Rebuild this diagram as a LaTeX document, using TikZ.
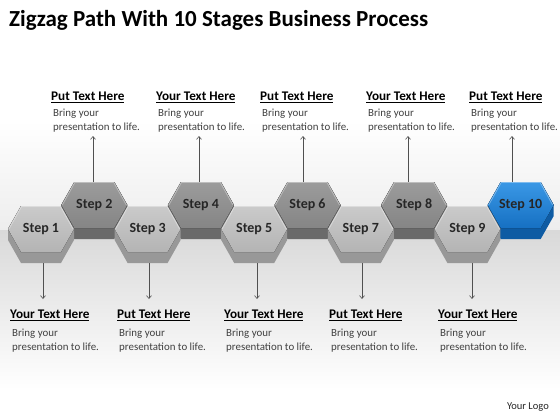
\documentclass[tikz,border=0pt]{standalone}
\usepackage{fontspec}
\setmainfont{Carlito}
\usetikzlibrary{arrows.meta,calc}
\definecolor{upTop}{HTML}{9C9C9C}
\definecolor{upBot}{HTML}{858585}
\definecolor{upSide}{HTML}{6A6A6A}
\definecolor{loTop}{HTML}{CACACA}
\definecolor{loBot}{HTML}{B4B4B4}
\definecolor{loSide}{HTML}{989898}
\definecolor{blTop}{HTML}{3A98E6}
\definecolor{blBot}{HTML}{1670C2}
\definecolor{blSide}{HTML}{0E5BA3}
\definecolor{bodyGray}{HTML}{404040}
\definecolor{lineGray}{HTML}{505050}
\newcommand\hexstep[7]{%
  \fill[#6] (#2-33,#3) -- (#2-20,#3-23) -- (#2+20,#3-23) -- (#2+33,#3) -- (#2+33,#3+11) -- (#2+20,#3+34) -- (#2-20,#3+34) -- (#2-33,#3+11) -- cycle;
  \fill[top color=#4,bottom color=#5] (#2-33,#3) -- (#2-20,#3-23) -- (#2+20,#3-23) -- (#2+33,#3) -- (#2+20,#3+23) -- (#2-20,#3+23) -- cycle;
  \draw[white,opacity=0.35,line width=0.8pt] (#2-32,#3) -- (#2-19.5,#3-22.5) -- (#2+19.5,#3-22.5) -- (#2+32,#3);
  \node[steplabel] (#1) at (#2,#3) {#7};
}
\tikzset{
  steplabel/.style={minimum width=66pt,minimum height=46pt,inner sep=0pt,font=\fontsize{14}{16}\selectfont\bfseries,text=black!85},
  hdr/.style={anchor=west,inner sep=0pt,font=\fontsize{13.2}{15}\selectfont\bfseries,text=black},
  bodytxt/.style={anchor=north west,inner sep=0pt,align=left,font=\fontsize{10.9}{14}\selectfont,text=bodyGray},
  conn/.style={draw=lineGray,line width=0.6pt,-{Straight Barb[length=3pt,width=5pt]}}
}
\begin{document}
\begin{tikzpicture}[x=1pt,y=-1pt]
\useasboundingbox (0,0) rectangle (560,420);
\fill[white] (0,0) rectangle (560,420);
\fill[top color=white,bottom color=black!7] (0,120) rectangle (560,230);
\fill[top color=black!15,bottom color=white] (0,230) rectangle (560,390);
% title
\node[anchor=west,inner sep=0pt,font=\fontsize{23}{26}\selectfont\bfseries] (title) at (9,20) {Zigzag Path With 10 Stages Business Process};
% upper row
\hexstep{s2}{94.3}{205}{upTop}{upBot}{upSide}{Step 2}
\hexstep{s4}{200.9}{205}{upTop}{upBot}{upSide}{Step 4}
\hexstep{s6}{307.5}{205}{upTop}{upBot}{upSide}{Step 6}
\hexstep{s8}{414.1}{205}{upTop}{upBot}{upSide}{Step 8}
\hexstep{s10}{520.7}{205}{blTop}{blBot}{blSide}{Step 10}
% lower row
\hexstep{s1}{41}{229}{loTop}{loBot}{loSide}{Step 1}
\hexstep{s3}{147.6}{229}{loTop}{loBot}{loSide}{Step 3}
\hexstep{s5}{254.2}{229}{loTop}{loBot}{loSide}{Step 5}
\hexstep{s7}{360.8}{229}{loTop}{loBot}{loSide}{Step 7}
\hexstep{s9}{467.4}{229}{loTop}{loBot}{loSide}{Step 9}
% upper texts
\foreach \n/\x/\t/\ax in {2/51/Put/93, 4/156/Your/199, 6/260/Put/303, 8/366/Your/408, 10/469/Put/512}{
  \node[hdr] (h\n) at (\x,97) {\underline{\t\ Text Here}};
  \node[bodytxt] (b\n) at (\x+2,109) {Bring your\\presentation to life.};
  \coordinate (a\n) at (\ax,136);
  \draw[conn] (s\n.north -| a\n) -- (a\n);
}
% lower texts
\foreach \n/\x/\t/\ax in {1/10/Your/43, 3/117/Put/149, 5/224/Your/257, 7/329/Put/362, 9/438/Your/472}{
  \node[hdr] (h\n) at (\x,315) {\underline{\t\ Text Here}};
  \node[bodytxt] (b\n) at (\x+2,329) {Bring your\\presentation to life.};
  \coordinate (a\n) at (\ax,299);
  \draw[conn] ([yshift=-11pt]s\n.south -| a\n) -- (a\n);
}
\node[anchor=east,inner sep=0pt,font=\fontsize{10.5}{12}\selectfont,text=black!85] (logo) at (549,407) {Your Logo};
\end{tikzpicture}
\end{document}
